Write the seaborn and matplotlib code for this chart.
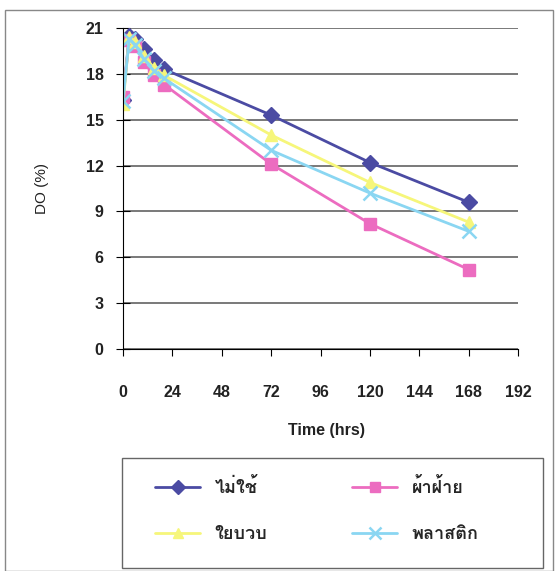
import matplotlib
matplotlib.use("Agg")
import matplotlib.pyplot as plt
from matplotlib import font_manager
from matplotlib.ft2font import FT2Font
from matplotlib.patches import Rectangle
import seaborn as sns
import pandas as pd

# data (DO % over time)
hours = [0, 3, 6, 10, 15, 20, 72, 120, 168]
no_filter = [16.3, 20.5, 20.3, 19.6, 18.9, 18.3, 15.3, 12.2, 9.6]
cotton = [16.5, 20.2, 19.8, 18.8, 17.9, 17.3, 12.1, 8.2, 5.2]
luffa = [16.0, 20.4, 20.1, 19.2, 18.4, 17.9, 14.0, 10.9, 8.3]
plastic = [16.2, 20.3, 19.9, 19.0, 18.2, 17.7, 13.0, 10.2, 7.7]
names = ["ไม่ใช้", "ผ้าฝ้าย", "ใยบวบ", "พลาสติก"]
x_ticks = [0, 24, 48, 72, 96, 120, 144, 168, 192]
y_ticks = [0, 3, 6, 9, 12, 15, 18, 21]

colors = ["#4b4ba3", "#ec6cc0", "#f6f67a", "#8ad6f2"]
markers = ["D", "s", "^", "x"]

sns.set_style("white")

# find something that can draw Thai
thai_font = None
for f in font_manager.fontManager.ttflist:
    try:
        if ord("ก") in FT2Font(f.fname).get_charmap():
            thai_font = f.name
            break
    except Exception:
        pass
fams = ["Liberation Sans"]
if thai_font:
    fams.append(thai_font)
fams.append("DejaVu Sans")
plt.rcParams["font.family"] = fams

df = pd.DataFrame({"hours": hours * 4,
                   "DO": no_filter + cotton + luffa + plastic,
                   "kind": [n for n in names for _ in hours]})

fig = plt.figure(figsize=(5.59, 5.71), dpi=100)
ax = fig.add_axes([123 / 559, 1 - 349 / 571, 395 / 559, 321 / 571])

for name, c, m in zip(names, colors, markers):
    sub = df[df["kind"] == name]
    sns.lineplot(data=sub, x="hours", y="DO", ax=ax, color=c, marker=m,
                 markersize=8.5 if m != "x" else 9.5, markeredgecolor=c,
                 markeredgewidth=1.0 if m != "x" else 1.8,
                 linewidth=2, label=name, legend=False)

ax.set_xlim(0, 192)
ax.set_ylim(0, 21)
ax.set_xticks(x_ticks)
ax.set_yticks(y_ticks)
ax.yaxis.grid(True, color="#555555", linewidth=1.1)
ax.set_axisbelow(True)
for s in ["top", "right"]:
    ax.spines[s].set_visible(False)
ax.spines["left"].set_color("black")
ax.spines["bottom"].set_color("black")
ax.tick_params(axis="x", direction="out", length=5, pad=21, labelsize=11.5,
               bottom=True, color="black")
ax.tick_params(axis="y", direction="inout", length=10, pad=9, labelsize=11.5,
               left=True, color="black")
for t in ax.get_xticklabels() + ax.get_yticklabels():
    t.set_fontweight("bold")
    t.set_color("#222222")
ax.set_xlabel("")
ax.set_ylabel("")

fig.text(42 / 559, 1 - 188 / 571, "DO (%)", rotation=90, ha="center",
         va="center", fontsize=11, color="#222222")
fig.text(326 / 559, 1 - 430 / 571, "Time (hrs)", ha="center", va="center",
         fontsize=11.5, fontweight="bold", color="#222222")

handles, labels = ax.get_legend_handles_labels()
order = [0, 2, 1, 3]
leg = fig.legend([handles[i] for i in order], [labels[i] for i in order],
                 ncol=2, loc="upper left",
                 bbox_to_anchor=(146 / 559, 1 - 469 / 571),
                 frameon=False, prop={"weight": "bold", "size": 13},
                 handlelength=2.5, handletextpad=0.8, labelspacing=1.6,
                 columnspacing=4.7, borderpad=0, markerscale=0.85)

# legend box and the outer frame of the scanned chart
fig.patches.append(Rectangle((122 / 559, 1 - 568 / 571), 421 / 559, 110 / 571,
                             transform=fig.transFigure, fill=False,
                             edgecolor="#666666", linewidth=1.0))
fig.patches.append(Rectangle((5 / 559, 0), 548 / 559, 1 - 10 / 571,
                             transform=fig.transFigure, fill=False,
                             edgecolor="#888888", linewidth=1.0))

fig.savefig("out.png", dpi=100)
